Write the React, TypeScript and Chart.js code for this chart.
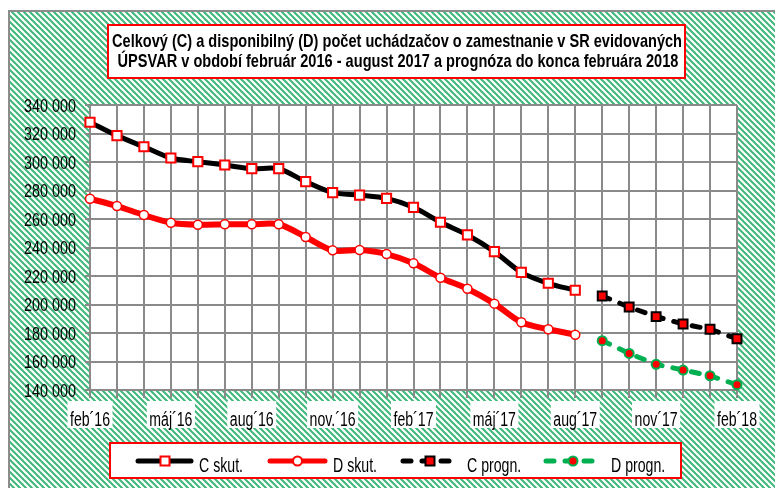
import React, { useEffect, useRef } from 'react';
import { Chart, registerables } from 'chart.js';

Chart.register(...registerables);

const titleLines = [
  'Celkový (C) a disponibilný (D) počet uchádzačov o zamestnanie v SR evidovaných',
  'ÚPSVAR v období február 2016 - august 2017 a prognóza do konca februára 2018',
];

const months = [
  'feb´16', 'mar´16', 'apr´16', 'máj´16', 'jún´16', 'júl´16', 'aug´16', 'sep´16', 'okt´16',
  'nov.´16', 'dec´16', 'jan´17', 'feb´17', 'mar´17', 'apr´17', 'máj´17', 'jún´17', 'júl´17',
  'aug´17', 'sep´17', 'okt´17', 'nov´17', 'dec´17', 'jan´18', 'feb´18',
];

// every third month is labelled
const labelledMonths = ['feb´16', 'máj´16', 'aug´16', 'nov.´16', 'feb´17', 'máj´17', 'aug´17', 'nov´17', 'feb´18'];

const cActual = [
  327900, 318500, 310700, 302800, 300200, 297900, 295300, 295300, 286200, 278500,
  276800, 274500, 268200, 257700, 248800, 237100, 222600, 214900, 210000,
];
const dActual = [
  274200, 269100, 262800, 257400, 256000, 256300, 256300, 256300, 247400, 238000,
  238200, 235400, 228900, 218800, 211100, 200600, 187500, 182600, 178800,
];
const cForecast = [206000, 198200, 191500, 186300, 182600, 176000];
const dForecast = [174600, 165700, 158000, 154000, 150000, 143700];

const yMin = 140000;
const yMax = 340000;
const yStep = 20000;
const yTickLabels = ['140 000', '160 000', '180 000', '200 000', '220 000', '240 000', '260 000', '280 000', '300 000', '320 000', '340 000'];

const seriesNames = ['C skut.', 'D skut.', 'C progn.', 'D progn.'];

const RED = '#ff0000';
const BLACK = '#000000';
const GREEN = '#00b050';
const GRID = '#8a8a8a';
const FONT = '"Liberation Sans", Arial, sans-serif';

function pad(before: number, values: number[], total: number): (number | null)[] {
  const out: (number | null)[] = [];
  for (let i = 0; i < before; i++) out.push(null);
  for (const v of values) out.push(v);
  while (out.length < total) out.push(null);
  return out;
}

function narrowText(
  ctx: CanvasRenderingContext2D,
  text: string,
  x: number,
  y: number,
  size: number,
  bold: boolean,
  align: 'left' | 'center' | 'right',
  sx: number,
) {
  ctx.save();
  ctx.font = `${bold ? 'bold ' : ''}${size}px ${FONT}`;
  ctx.textAlign = 'left';
  ctx.textBaseline = 'alphabetic';
  ctx.fillStyle = '#000';
  const w = ctx.measureText(text).width * sx;
  const left = align === 'center' ? x - w / 2 : align === 'right' ? x - w : x;
  ctx.translate(left, y);
  ctx.scale(sx, 1);
  ctx.fillText(text, 0, 0);
  ctx.restore();
  return { left, w };
}

function scaleFor(ctx: CanvasRenderingContext2D, text: string, size: number, bold: boolean, target: number) {
  ctx.save();
  ctx.font = `${bold ? 'bold ' : ''}${size}px ${FONT}`;
  const w = ctx.measureText(text).width;
  ctx.restore();
  return target / w;
}

function makeHatch(ctx: CanvasRenderingContext2D) {
  const c = document.createElement('canvas');
  c.width = 6;
  c.height = 6;
  const g = c.getContext('2d')!;
  g.fillStyle = '#ffffff';
  g.fillRect(0, 0, 6, 6);
  g.strokeStyle = '#3db878';
  g.lineWidth = 2;
  for (const o of [-6, 0, 6]) {
    g.beginPath();
    g.moveTo(-1, -1 + o);
    g.lineTo(7, 7 + o);
    g.stroke();
  }
  return ctx.createPattern(c, 'repeat')!;
}

const backgroundPlugin = {
  id: 'bgHatch',
  beforeDraw(chart: any) {
    const ctx: CanvasRenderingContext2D = chart.ctx;
    const { width, height, chartArea } = chart;
    ctx.save();
    ctx.fillStyle = '#ffffff';
    ctx.fillRect(0, 0, width, height);
    ctx.fillStyle = makeHatch(ctx);
    ctx.fillRect(9, 11, width - 9, height - 11);
    ctx.strokeStyle = '#8c8c8c';
    ctx.lineWidth = 2;
    ctx.beginPath();
    ctx.moveTo(9, height);
    ctx.lineTo(9, 11);
    ctx.lineTo(width, 11);
    ctx.stroke();
    ctx.fillStyle = '#ffffff';
    ctx.fillRect(chartArea.left, chartArea.top, chartArea.right - chartArea.left, chartArea.bottom - chartArea.top);
    ctx.restore();
  },
};

function legendSymbol(
  ctx: CanvasRenderingContext2D,
  x1: number,
  x2: number,
  y: number,
  color: string,
  dash: number[],
  marker: 'rect' | 'circle',
  mx: number,
  fill: string,
  stroke: string,
) {
  ctx.save();
  ctx.strokeStyle = color;
  ctx.lineWidth = 5;
  ctx.lineCap = 'round';
  ctx.setLineDash(dash);
  ctx.beginPath();
  ctx.moveTo(x1, y);
  ctx.lineTo(x2, y);
  ctx.stroke();
  ctx.setLineDash([]);
  ctx.fillStyle = fill;
  ctx.strokeStyle = stroke;
  ctx.lineWidth = 2;
  ctx.beginPath();
  if (marker === 'rect') {
    ctx.rect(mx - 4.5, y - 4.5, 9, 9);
  } else {
    ctx.arc(mx, y, 4.5, 0, Math.PI * 2);
  }
  ctx.fill();
  ctx.stroke();
  ctx.restore();
}

const overlayPlugin = {
  id: 'overlay',
  afterDraw(chart: any) {
    const ctx: CanvasRenderingContext2D = chart.ctx;
    const xScale = chart.scales.x;
    const yScale = chart.scales.y;

    // y-axis labels
    const ySx = scaleFor(ctx, '340 000', 18, false, 52);
    yTickLabels.forEach((lab, i) => {
      const py = yScale.getPixelForValue(yMin + i * yStep);
      narrowText(ctx, lab, 76, py + 6.5, 18, false, 'right', ySx);
    });

    // x-axis labels with white boxes
    const xSx = scaleFor(ctx, 'feb´16', 20, false, 40);
    labelledMonths.forEach((lab) => {
      const idx = months.indexOf(lab);
      const px = xScale.getPixelForValue(idx);
      ctx.save();
      ctx.font = `20px ${FONT}`;
      const w = ctx.measureText(lab).width * xSx;
      ctx.fillStyle = '#ffffff';
      ctx.fillRect(px - w / 2 - 2.5, 401, w + 5, 27);
      ctx.restore();
      narrowText(ctx, lab, px, 425.5, 20, false, 'center', xSx);
    });

    // title
    ctx.save();
    ctx.fillStyle = '#ffffff';
    ctx.fillRect(108, 25, 577, 53);
    ctx.strokeStyle = RED;
    ctx.lineWidth = 2;
    ctx.strokeRect(108, 25, 577, 53);
    ctx.restore();
    const tSx = scaleFor(ctx, titleLines[0], 18.5, true, 570);
    narrowText(ctx, titleLines[0], 397, 46.5, 18.5, true, 'center', tSx);
    narrowText(ctx, titleLines[1], 398, 66.5, 18.5, true, 'center', tSx);

    // legend
    ctx.save();
    ctx.fillStyle = '#ffffff';
    ctx.fillRect(110, 443, 571, 35);
    ctx.strokeStyle = RED;
    ctx.lineWidth = 2;
    ctx.strokeRect(110, 443, 571, 35);
    ctx.restore();
    const ly = 461;
    const lSx = scaleFor(ctx, 'C skut.', 20, false, 44);
    legendSymbol(ctx, 138, 191, ly, BLACK, [], 'rect', 165, '#ffffff', RED);
    narrowText(ctx, seriesNames[0], 199, 471.5, 20, false, 'left', lSx);
    legendSymbol(ctx, 270, 325, ly, RED, [], 'circle', 297.5, '#ffffff', RED);
    narrowText(ctx, seriesNames[1], 333, 471.5, 20, false, 'left', lSx);
    legendSymbol(ctx, 403, 453, ly, BLACK, [8, 11], 'rect', 430, RED, BLACK);
    narrowText(ctx, seriesNames[2], 467, 471.5, 20, false, 'left', lSx);
    legendSymbol(ctx, 546, 595, ly, GREEN, [8, 11], 'circle', 573, RED, GREEN);
    narrowText(ctx, seriesNames[3], 611, 471.5, 20, false, 'left', lSx);
  },
};

export default function App() {
  const ref = useRef<HTMLCanvasElement | null>(null);

  useEffect(() => {
    if (!ref.current) return;
    const n = months.length;
    const chart = new Chart(ref.current, {
      type: 'line',
      data: {
        labels: months,
        datasets: [
          {
            label: seriesNames[0],
            data: pad(0, cActual, n),
            borderColor: BLACK,
            borderWidth: 5,
            tension: 0.3,
            pointStyle: 'rect',
            pointRadius: 6.5,
            pointBackgroundColor: '#ffffff',
            pointBorderColor: RED,
            pointBorderWidth: 2,
            clip: false,
          },
          {
            label: seriesNames[1],
            data: pad(0, dActual, n),
            borderColor: RED,
            borderWidth: 6,
            tension: 0.3,
            pointStyle: 'circle',
            pointRadius: 4.5,
            pointBackgroundColor: '#ffffff',
            pointBorderColor: RED,
            pointBorderWidth: 1.5,
            clip: false,
          },
          {
            label: seriesNames[2],
            data: pad(cActual.length, cForecast, n),
            borderColor: BLACK,
            borderWidth: 5,
            borderDash: [8, 11],
            borderCapStyle: 'round',
            tension: 0,
            pointStyle: 'rect',
            pointRadius: 6.3,
            pointBackgroundColor: RED,
            pointBorderColor: BLACK,
            pointBorderWidth: 2,
            clip: false,
          },
          {
            label: seriesNames[3],
            data: pad(dActual.length, dForecast, n),
            borderColor: GREEN,
            borderWidth: 5,
            borderDash: [8, 11],
            borderCapStyle: 'round',
            tension: 0,
            pointStyle: 'circle',
            pointRadius: 4.5,
            pointBackgroundColor: RED,
            pointBorderColor: GREEN,
            pointBorderWidth: 2,
            clip: false,
          },
        ] as any,
      },
      options: {
        responsive: false,
        animation: false,
        devicePixelRatio: 1,
        spanGaps: false,
        layout: { padding: { top: 105, right: 38, left: 0, bottom: 0 } },
        plugins: {
          legend: { display: false },
          title: { display: false },
          tooltip: { enabled: false },
        },
        scales: {
          x: {
            type: 'category',
            offset: false,
            grid: { color: GRID, lineWidth: 2, drawTicks: true, tickLength: 8, tickColor: GRID },
            border: { display: true, color: GRID, width: 2 },
            ticks: { display: false },
            afterFit: (s: any) => {
              s.height = 98;
            },
          },
          y: {
            min: yMin,
            max: yMax,
            ticks: { display: false, stepSize: yStep },
            grid: { color: GRID, lineWidth: 2, drawTicks: true, tickLength: 5, tickColor: GRID },
            border: { display: true, color: GRID, width: 2 },
            afterFit: (s: any) => {
              s.width = 90;
            },
          },
        },
      } as any,
      plugins: [backgroundPlugin, overlayPlugin],
    });
    return () => chart.destroy();
  }, []);

  return (
    <div style={{ position: 'absolute', left: 0, top: 0, width: 775, height: 488 }}>
      <canvas ref={ref} width={775} height={488} style={{ width: 775, height: 488, display: 'block' }} />
    </div>
  );
}
